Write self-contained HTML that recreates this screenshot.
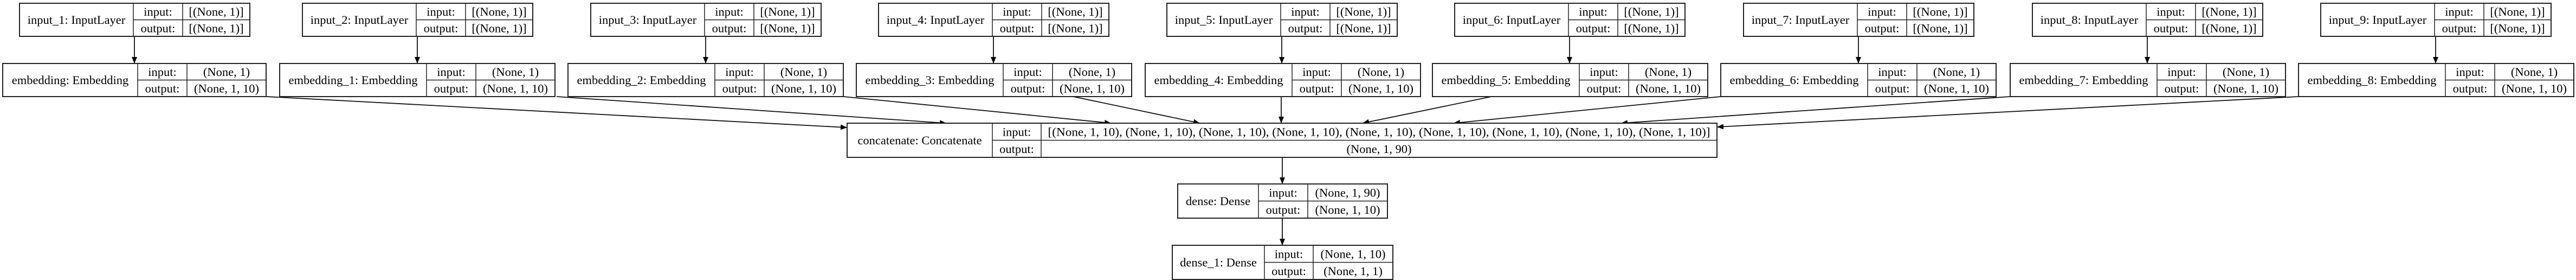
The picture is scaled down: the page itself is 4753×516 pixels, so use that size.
<!DOCTYPE html>
<html><head><meta charset="utf-8"><style>
html,body{margin:0;padding:0;background:#fff;}
svg{display:block;}
text{font-family:"Liberation Serif",serif;font-size:22.5px;fill:#000;}
</style></head><body>
<svg id="g" width="4753" height="516" viewBox="0 0 4753 516" xmlns="http://www.w3.org/2000/svg">
<defs><marker id="ah" markerWidth="12" markerHeight="10" refX="12" refY="5" orient="auto" markerUnits="userSpaceOnUse" viewBox="0 0 12 10"><path d="M0,0 L12,5 L0,10 z" fill="#000"/></marker></defs>
</svg>
<script>
const NS='http://www.w3.org/2000/svg';
const svg=document.getElementById('g');
function mk(tag,attrs){const e=document.createElementNS(NS,tag);for(const k in attrs)e.setAttribute(k,attrs[k]);svg.appendChild(e);return e;}
function txt(x,y,s,name,len){const t=mk('text',{x:x,y:y,'text-anchor':'middle','dominant-baseline':'central'});
if(len){t.setAttribute('textLength',len);t.setAttribute('lengthAdjust','spacingAndGlyphs');}
t.textContent=s;


return t;}
function box(x0,x1,x2,x3,y0,y1,label,inp,out,name,longLen){
const g=mk('rect',{x:x0,y:y0,width:x3-x0,height:y1-y0,fill:'#fff',stroke:'#222','stroke-width':2});


const ym=(y0+y1)/2;
mk('line',{x1:x1,y1:y0,x2:x1,y2:y1,stroke:'#222','stroke-width':1.5});
mk('line',{x1:x2,y1:y0,x2:x2,y2:y1,stroke:'#222','stroke-width':1.5});
mk('line',{x1:x1,y1:ym,x2:x3,y2:ym,stroke:'#222','stroke-width':1.5});
txt((x0+x1)/2,ym,label,name+'-label');
txt((x1+x2)/2,(y0+ym)/2,'input:',name+'-input-key');
txt((x1+x2)/2,(ym+y1)/2,'output:',name+'-output-key');
txt((x2+x3)/2,(y0+ym)/2,inp,name+'-input-shape',longLen);
txt((x2+x3)/2,(ym+y1)/2,out,name+'-output-shape');
}
function edge(x1,y1,x2,y2,name){
const l=mk('line',{x1:x1,y1:y1,x2:x2,y2:y2,stroke:'#111','stroke-width':1.8,'marker-end':'url(#ah)'});


}
const inX=[36,558,1090,1621,2153,2684,3217,3750,4282];
const emX=[5,516,1048,1580,2113,2643,3175,3709,4241];
const emLabelW=[249,271,271,271,271,271,271,271,271];
const emSrc=[491,1027,1556,1980,2364,2752,3175,3709,4241];
const emDst=[[1563,235],[1746,227],[2050,227],[2214,227],[2364,227],[2514,227],[2682,227],[2991,227],[3168,234]];
for(let i=0;i<9;i++){
  const x=inX[i];
  edge(x+212,67,x+212,117,'edge-input-'+(i+1));
  box(x,x+210,x+301,x+425,6,67,'input_'+(i+1)+': InputLayer','[(None, 1)]','[(None, 1)]','input-'+(i+1)+'-node');
}
for(let i=0;i<9;i++){
  edge(emSrc[i],178,emDst[i][0],emDst[i][1],'edge-embedding-'+i);
}
for(let i=0;i<9;i++){
  const x=emX[i],lw=emLabelW[i];
  box(x,x+lw,x+lw+91,x+lw+91+146,117,178,'embedding'+(i?'_'+i:'')+': Embedding','(None, 1)','(None, 1, 10)','embedding-'+i+'-node');
}
const cat='[(None, 1, 10), (None, 1, 10), (None, 1, 10), (None, 1, 10), (None, 1, 10), (None, 1, 10), (None, 1, 10), (None, 1, 10), (None, 1, 10)]';
box(1563,1831,1921,3168,227,290,'concatenate: Concatenate',cat,'(None, 1, 90)','concatenate-node',1222);
edge(2366,290,2366,339,'edge-concat-dense');
box(2173,2322,2413,2560,339,402,'dense: Dense','(None, 1, 90)','(None, 1, 10)','dense-node');
edge(2366,402,2366,452,'edge-dense-dense1');
box(2163,2333,2423,2570,452,515,'dense_1: Dense','(None, 1, 10)','(None, 1, 1)','dense-1-node');
</script>
</body></html>
